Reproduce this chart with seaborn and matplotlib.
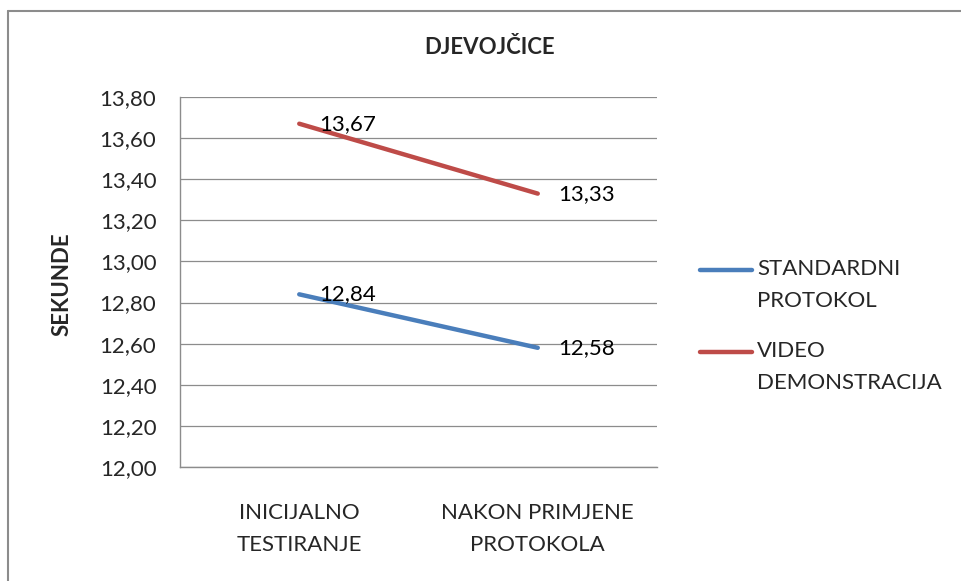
import matplotlib
matplotlib.use("Agg")
import matplotlib.pyplot as plt
from matplotlib.lines import Line2D
from matplotlib.ticker import FuncFormatter
import seaborn as sns
import pandas as pd

categories = ["INICIJALNO\nTESTIRANJE", "NAKON PRIMJENE\nPROTOKOLA"]
series_names = ["STANDARDNI\nPROTOKOL", "VIDEO\nDEMONSTRACIJA"]
standardni = [12.84, 12.58]
video = [13.67, 13.33]
colors = ["#4A7EBB", "#BE4B48"]
title = "DJEVOJČICE"
ylabel = "SEKUNDE"

rows = []
for name, vals in zip(series_names, [standardni, video]):
    for i, v in enumerate(vals):
        rows.append({"pos": i, "value": v, "series": name})
df = pd.DataFrame(rows)

sns.set_style("white")
plt.rcParams["font.family"] = ["Lato", "DejaVu Sans"]

FS = 16
W, H = 962, 581
fig = plt.figure(figsize=(W / 100, H / 100), dpi=100)
ax = fig.add_axes([180 / W, 1 - 467 / H, (657 - 180) / W, (467 - 97) / H])

sns.lineplot(data=df, x="pos", y="value", hue="series", palette=colors,
             hue_order=series_names, linewidth=3.2, ax=ax, legend=False)

for name, vals in zip(series_names, [standardni, video]):
    for i, v in enumerate(vals):
        ax.annotate(f"{v:.2f}".replace(".", ","), (i, v), xytext=(14.5, 0),
                    textcoords="offset points", va="center", ha="left",
                    fontsize=FS, color="#000000")

ax.set_xlim(-0.5, 1.5)
ax.set_ylim(12.0, 13.8)
ax.set_yticks([12.0 + 0.2 * k for k in range(10)])
ax.yaxis.set_major_formatter(FuncFormatter(lambda v, p: f"{v:.2f}".replace(".", ",")))
ax.set_xticks([0, 1])
ax.set_xticklabels(categories, linespacing=1.75)
ax.tick_params(axis="y", length=0, pad=17, labelsize=FS)
ax.tick_params(axis="x", length=0, pad=26, labelsize=FS)
ax.set_xlabel("")
ax.set_ylabel("")
ax.grid(axis="y", color="#8C8C8C", linewidth=0.9)
ax.set_axisbelow(True)
for s in ["top", "right"]:
    ax.spines[s].set_visible(False)
for s in ["left", "bottom"]:
    ax.spines[s].set_color("#8C8C8C")
    ax.spines[s].set_linewidth(1.0)

fig.text(490 / W, 1 - 48 / H, title, ha="center", va="center",
         fontsize=16, fontweight="bold")
fig.text(62 / W, 1 - 284 / H, ylabel, ha="center", va="center",
         rotation=90, fontsize=16, fontweight="bold")

# legend
leg_y = [270, 352]
for name, c, y in zip(series_names, colors, leg_y):
    fig.add_artist(Line2D([700 / W, 752 / W], [1 - y / H, 1 - y / H],
                          color=c, linewidth=3.2, solid_capstyle="round"))
    fig.text(757 / W, 1 - (y - 11) / H, name, ha="left", va="top",
             fontsize=FS, linespacing=1.75)

# outer border (top and left)
fig.add_artist(Line2D([8 / W, 1.0], [1 - 11 / H, 1 - 11 / H], color="#8C8C8C", linewidth=1.5))
fig.add_artist(Line2D([8 / W, 8 / W], [0.0, 1 - 11 / H], color="#8C8C8C", linewidth=1.5))

fig.savefig("out.png", dpi=100)
